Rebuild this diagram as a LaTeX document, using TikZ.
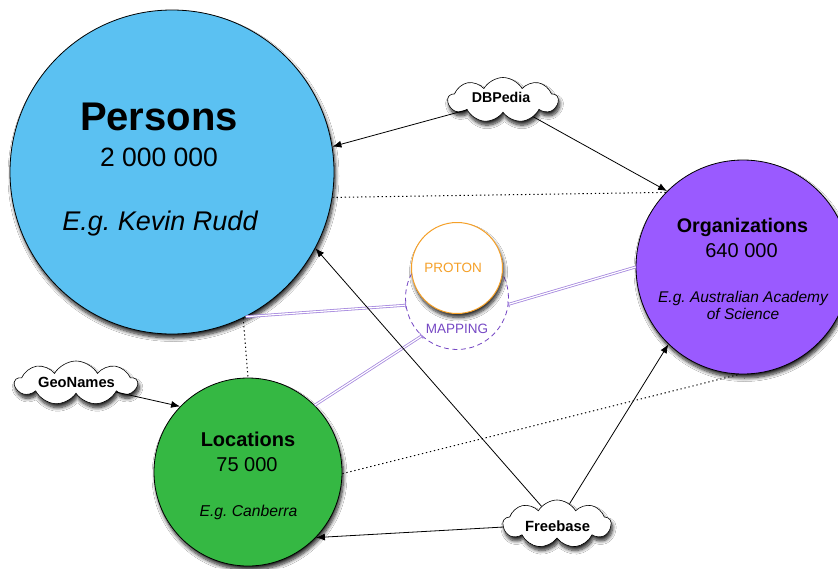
\documentclass[tikz,border=0pt]{standalone}
\usepackage{fontspec}
\setmainfont{Liberation Sans}
\usetikzlibrary{arrows.meta,shapes.symbols,shadows.blur,calc}
\definecolor{perblue}{RGB}{91,193,242}
\definecolor{orgpurple}{RGB}{154,90,255}
\definecolor{locgreen}{RGB}{53,184,67}
\definecolor{protonorange}{RGB}{245,160,40}
\definecolor{mapviolet}{RGB}{118,72,196}
\definecolor{dbllav}{RGB}{165,135,222}
\frenchspacing
\begin{document}
\begin{tikzpicture}[x=1pt,y=-1pt,
  softshadow/.style={blur shadow={shadow xshift=1.5pt,shadow yshift=-4pt,shadow blur radius=3.5pt,shadow blur steps=8,shadow opacity=85}},
  bigcircle/.style={circle,draw=black,line width=0.8pt,inner sep=0pt,softshadow},
  cloudbox/.style={cloud,cloud puffs=9,cloud puff arc=120,cloud ignores aspect,draw=black,line width=0.6pt,fill=white,inner sep=0pt,softshadow},
  lbl/.style={anchor=base,inner sep=0pt},
  arr/.style={draw=black,line width=0.8pt,-{Latex[length=9pt,width=7pt]}},
  dots/.style={draw=black,line width=1pt,dash pattern=on 1.3pt off 2.8pt},
  dbl/.style={draw=dbllav,line width=0.8pt,double=white,double distance=1.2pt},
  tick/.style={draw=dbllav,line width=1pt}]
\fill[white] (0,0) rectangle (838,568);
\useasboundingbox (0,0) rectangle (838,568);

% main circles
\node[bigcircle,fill=perblue,minimum size=324pt] (per) at (172,172) {};
\node[bigcircle,fill=orgpurple,minimum size=214pt] (org) at (743,267) {};
\node[bigcircle,fill=locgreen,minimum size=188pt] (loc) at (248,472) {};

% PROTON / MAPPING
\node[circle,draw=mapviolet,line width=0.8pt,dash pattern=on 5pt off 3.5pt,minimum size=103pt,inner sep=0pt] (map) at (457,298) {};
\node[circle,draw=protonorange,line width=1pt,fill=white,minimum size=91pt,inner sep=0pt,softshadow] (pro) at (457,268) {};
\node[lbl,text=protonorange,font=\fontsize{13.5}{16}\selectfont] (proT) at (453,272) {PROTON};
\node[lbl,text=mapviolet,font=\fontsize{13.5}{16}\selectfont] (mapT) at (457,333) {MAPPING};

% clouds
\node[cloudbox,minimum width=110pt,minimum height=45pt] (dbp) at (503,100) {};
\node[cloudbox,minimum width=122pt,minimum height=44pt] (geo) at (76,383) {};
\node[cloudbox,minimum width=108pt,minimum height=48pt] (fb) at (557,524) {};
\node[lbl,font=\fontsize{14.2}{17}\selectfont\bfseries] (dbpT) at (501,102) {DBPedia};
\node[lbl,font=\fontsize{14.7}{17}\selectfont\bfseries] (geoT) at (76.5,387) {GeoNames};
\node[lbl,font=\fontsize{14.8}{17}\selectfont\bfseries] (fbT) at (557.5,531) {Freebase};

% circle texts
\node[lbl,font=\fontsize{40}{48}\selectfont\bfseries] (perT1) at (159,130) {Persons};
\node[lbl,font=\fontsize{26.5}{32}\selectfont] (perT2) at (159,166) {2 000 000};
\node[lbl,font=\fontsize{27}{32}\selectfont\itshape] (perT3) at (160,230) {E.g. Kevin Rudd};

\node[lbl,font=\fontsize{19.7}{24}\selectfont\bfseries] (orgT1) at (742.5,232) {Organizations};
\node[lbl,font=\fontsize{20}{24}\selectfont] (orgT2) at (741.5,257) {640 000};
\node[lbl,font=\fontsize{15.5}{17}\selectfont\itshape] (orgT3) at (743,302) {E.g. Australian Academy};
\node[lbl,font=\fontsize{15.5}{17}\selectfont\itshape] (orgT4) at (743,319) {of Science};

\node[lbl,font=\fontsize{20}{24}\selectfont\bfseries] (locT1) at (248,446) {Locations};
\node[lbl,font=\fontsize{20}{24}\selectfont] (locT2) at (247,471) {75 000};
\node[lbl,font=\fontsize{15.7}{18}\selectfont\itshape] (locT3) at (248.5,516) {E.g. Canberra};

% double mapping lines
\draw[dbl] (per.-63) -- (map.188);
\draw[dbl] (loc.45) -- (map.227);
\draw[dbl] (org.180) -- (map.-7);
\draw[tick] ($(map.188)!3pt!90:(per.-63)$) -- ($(map.188)!3pt!-90:(per.-63)$);
\draw[tick] ($(map.227)!3pt!90:(loc.45)$) -- ($(map.227)!3pt!-90:(loc.45)$);
\draw[tick] ($(map.-7)!3pt!90:(org.180)$) -- ($(map.-7)!3pt!-90:(org.180)$);

% dotted relations
\draw[dots] (per.-9) -- (org.136);
\draw[dots] (per.-64) -- (loc.90);
\draw[dots] (loc.-1) -- (org.-92);

% arrows
\draw[arr] (dbp) -- (per.9);
\draw[arr] (dbp) -- (org.135);
\draw[arr] (geo) -- (loc.136);
\draw[arr] (fb) -- (per.-28);
\draw[arr] (fb) -- (org.-134);
\draw[arr] (fb) -- (loc.-44);
\end{tikzpicture}
\end{document}
